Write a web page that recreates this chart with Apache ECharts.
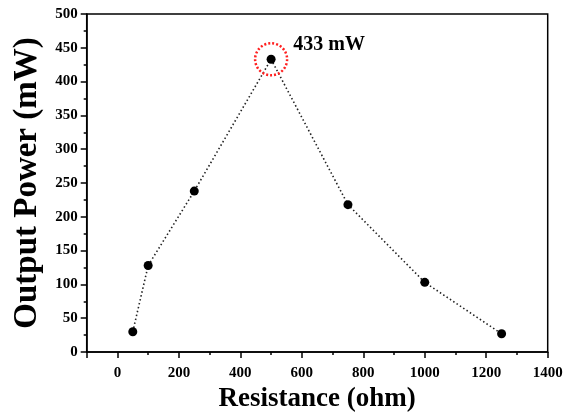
<!DOCTYPE html>
<html>
<head>
<meta charset="utf-8">
<script src="https://cdn.jsdelivr.net/npm/echarts@6/dist/echarts.min.js"></script>
<style>
html,body{margin:0;padding:0;background:#fff;}
#chart{width:566px;height:413px;}
</style>
</head>
<body>
<div id="chart"></div>
<script>
const resistance = [50, 100, 250, 500, 750, 1000, 1250];
const power = [30, 128, 238, 433, 218, 103, 27];
const xTitle = 'Resistance (ohm)';
const yTitle = 'Output Power (mW)';
const peakUnit = 'mW';

const serif = '"Liberation Serif", "Times New Roman", serif';
const chart = echarts.init(document.getElementById('chart'));
const pts = resistance.map((r, i) => [r, power[i]]);

chart.setOption({
  animation: false,
  grid: {left: 86.7, right: 18.3, top: 14, bottom: 61, containLabel: false, outerBoundsMode: 'none',
    show: true, borderColor: '#000', borderWidth: 1.5, backgroundColor: 'transparent'},
  xAxis: [{
    type: 'value', min: -100, max: 1400, splitNumber: 7,
    name: xTitle, nameLocation: 'middle', nameGap: 30,
    nameTextStyle: {fontFamily: serif, fontWeight: 'bold', fontSize: 27, color: '#000'},
    axisLine: {onZero: false, lineStyle: {color: '#000', width: 1.5}},
    axisTick: {show: true, inside: false, length: 6, lineStyle: {color: '#000', width: 1.5}},
    axisLabel: {fontFamily: serif, fontWeight: 'bold', fontSize: 15, color: '#000', margin: 14,
      formatter: v => (v % 200 === 0 ? String(v) : '')},
    splitLine: {show: false}
  }, {
    type: 'value', min: -100, max: 1400, interval: 100, position: 'bottom',
    axisLine: {show: false, onZero: false},
    axisTick: {show: true, length: 3, lineStyle: {color: '#000', width: 1.5}},
    axisLabel: {show: false}, splitLine: {show: false}
  }],
  yAxis: {
    type: 'value', min: 0, max: 500, interval: 50,
    name: yTitle, nameLocation: 'middle', nameGap: 43,
    nameTextStyle: {fontFamily: serif, fontWeight: 'bold', fontSize: 33, color: '#000'},
    axisLine: {show: true, onZero: false, lineStyle: {color: '#000', width: 1.5}},
    axisTick: {show: true, length: 6, lineStyle: {color: '#000', width: 1.5}},
    minorTick: {show: true, splitNumber: 2, length: 3, lineStyle: {color: '#000', width: 1.5}},
    axisLabel: {fontFamily: serif, fontWeight: 'bold', fontSize: 15, color: '#000', margin: 9},
    splitLine: {show: false}
  },
  series: [{
    type: 'line', data: pts, xAxisIndex: 0,
    symbol: 'circle', symbolSize: 9,
    itemStyle: {color: '#000'},
    lineStyle: {color: '#222', width: 1.6, type: [1.5, 2.5]},
    markPoint: {
      symbol: 'circle', symbolSize: 32,
      itemStyle: {color: 'transparent', borderColor: '#ff2020', borderWidth: 2.5, borderType: [2, 2]},
      label: {show: true, position: 'right', distance: 5, offset: [0, -14],
        fontFamily: serif, fontWeight: 'bold', fontSize: 20, color: '#000',
        formatter: p => p.value + ' ' + peakUnit},
      data: [{type: 'max', valueDim: 'y'}]
    }
  }]
});
</script>
</body>
</html>
